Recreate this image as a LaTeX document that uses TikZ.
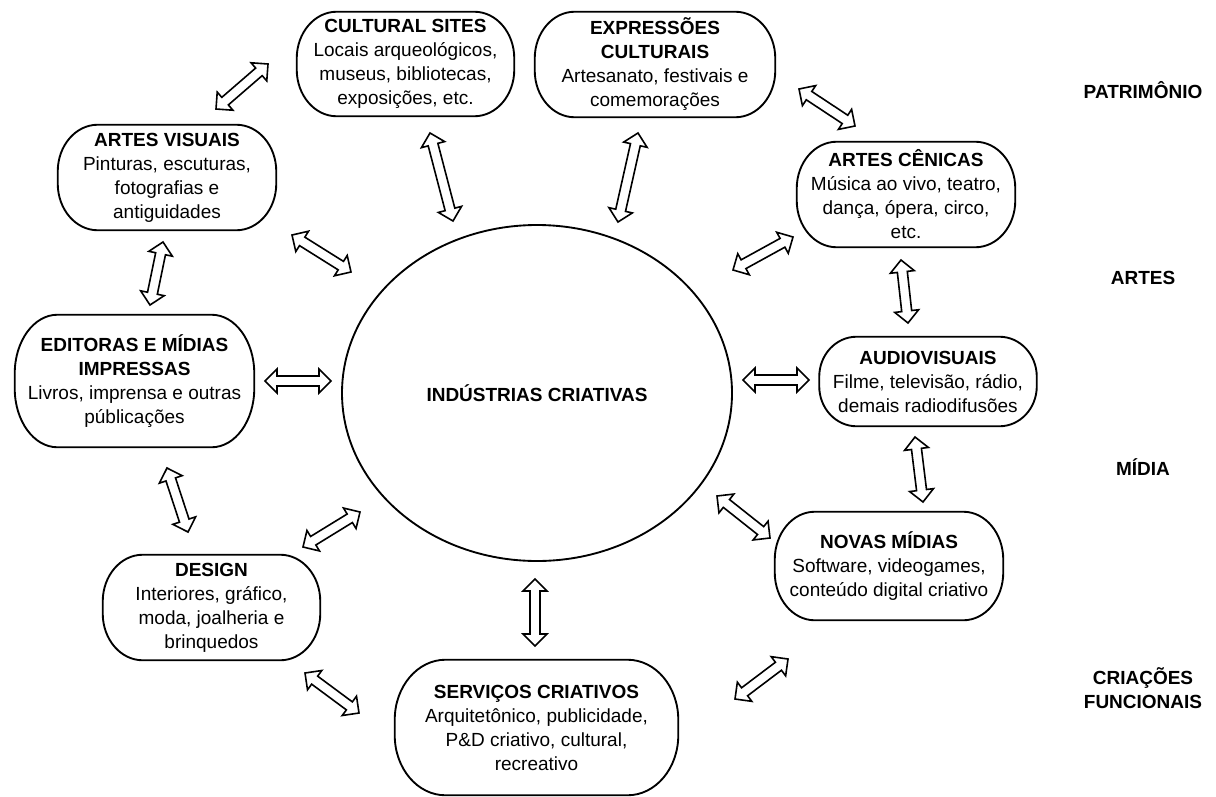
\documentclass[tikz,border=0pt]{standalone}
\usepackage{fontspec}
\setmainfont{Liberation Sans}
\usetikzlibrary{shapes.geometric,calc}

% hollow double-headed block arrow between two named points
\newcommand\twinarrow[2]{%
  \coordinate (ta) at ($(#1)!9pt!(#2)$);
  \coordinate (tb) at ($(#2)!9pt!(#1)$);
  \draw[arrowline] (#1)
    -- ($(ta)!9pt!90:(#2)$) -- ($(ta)!3.75pt!90:(#2)$)
    -- ($(tb)!3.75pt!-90:(#1)$) -- ($(tb)!9pt!-90:(#1)$)
    -- (#2)
    -- ($(tb)!9pt!90:(#1)$) -- ($(tb)!3.75pt!90:(#1)$)
    -- ($(ta)!3.75pt!-90:(#2)$) -- ($(ta)!9pt!-90:(#2)$)
    -- cycle;}

% border with elliptical corners around a node: #2 horizontal, #3 vertical radius
\newcommand\pillborder[3]{%
  \draw[pillline] let \p1=(#1.north west), \p2=(#1.south east) in
    (\x1+#2,\y1) -- (\x2-#2,\y1)
    .. controls (\x2-0.448*#2,\y1) and (\x2,\y1-0.448*#3) .. (\x2,\y1-#3)
    -- (\x2,\y2+#3)
    .. controls (\x2,\y2+0.448*#3) and (\x2-0.448*#2,\y2) .. (\x2-#2,\y2)
    -- (\x1+#2,\y2)
    .. controls (\x1+0.448*#2,\y2) and (\x1,\y2+0.448*#3) .. (\x1,\y2+#3)
    -- (\x1,\y1-#3)
    .. controls (\x1,\y1-0.448*#3) and (\x1+0.448*#2,\y1) .. (\x1+#2,\y1)
    -- cycle;}

\tikzset{
  sector/.style={align=center, inner sep=0pt,
    font=\fontsize{14.25pt}{18pt}\selectfont},
  pillline/.style={draw, line width=1.4pt},
  arrowline/.style={draw, line width=1.2pt, fill=white, line join=miter},
  group/.style={align=center, inner sep=0pt,
    font=\bfseries\fontsize{14.25pt}{18pt}\selectfont},
}

\begin{document}
\begin{tikzpicture}[x=0.75pt, y=-0.75pt]
\useasboundingbox (0,0) rectangle (1216,796);

% central hub
\node[draw, ellipse, line width=1.4pt, minimum width=292.5pt, minimum height=252pt,
      font=\bfseries\fontsize{14.25pt}{18pt}\selectfont] (hub) at (537,393)
  {INDÚSTRIAS CRIATIVAS};

% sectors
\node[sector, minimum width=162.75pt, minimum height=78pt] (cs) at (405.5,64)
  {\textbf{CULTURAL SITES}\\Locais arqueológicos,\\museus, bibliotecas,\\exposições, etc.};
\node[sector, minimum width=180pt, minimum height=78.75pt] (ec) at (655,64.5)
  {\textbf{EXPRESSÕES}\\\textbf{CULTURAIS}\\Artesanato, festivais e\\comemorações};
\node[sector, minimum width=163.5pt, minimum height=78.75pt] (av) at (167,177.5)
  {\textbf{ARTES VISUAIS}\\Pinturas, escuturas,\\fotografias e\\antiguidades};
\node[sector, minimum width=163.5pt, minimum height=78.75pt] (ac) at (906,194.5)
  {\textbf{ARTES CÊNICAS}\\Música ao vivo, teatro,\\dança, ópera, circo,\\etc.};
\node[sector, minimum width=179.25pt, minimum height=99pt] (ed) at (134.5,381)
  {\textbf{EDITORAS E MÍDIAS}\\\textbf{IMPRESSAS}\\Livros, imprensa e outras\\públicações};
\node[sector, minimum width=162.75pt, minimum height=66.75pt] (au) at (928,381.5)
  {\textbf{AUDIOVISUAIS}\\Filme, televisão, rádio,\\demais radiodifusões};
\node[sector, minimum width=162.75pt, minimum height=78.75pt] (de) at (211.5,607.5)
  {\textbf{DESIGN}\\Interiores, gráfico,\\moda, joalheria e\\brinquedos};
\node[sector, minimum width=171pt, minimum height=81pt] (nm) at (889,566)
  {\textbf{NOVAS MÍDIAS}\\Software, videogames,\\conteúdo digital criativo};
\node[sector, minimum width=212.25pt, minimum height=101.25pt] (sc) at (536.5,727.5)
  {\textbf{SERVIÇOS CRIATIVOS}\\Arquitetônico, publicidade,\\P\&D criativo, cultural,\\recreativo};

\pillborder{cs}{30pt}{35pt}
\pillborder{ec}{30pt}{35pt}
\pillborder{av}{30pt}{35pt}
\pillborder{ac}{30pt}{35pt}
\pillborder{ed}{32pt}{44pt}
\pillborder{au}{28pt}{30pt}
\pillborder{de}{30pt}{35pt}
\pillborder{nm}{30pt}{36pt}
\pillborder{sc}{38pt}{45pt}

% group labels on the right
\node[group] (gp) at (1143,90) {PATRIMÔNIO};
\node[group] (ga) at (1143,278) {ARTES};
\node[group] (gm) at (1143,467) {MÍDIA};
\node[group] (gc) at (1143,688) {CRIAÇÕES\\FUNCIONAIS};

% arrow end points
\coordinate (av-cs) at (216,109);  \coordinate (cs-av) at (268,64);
\coordinate (cs-hub) at (430,133); \coordinate (hub-cs) at (453,221);
\coordinate (ec-hub) at (638,133); \coordinate (hub-ec) at (618,222);
\coordinate (ec-ac) at (799,89);   \coordinate (ac-ec) at (855,126);
\coordinate (hub-ac) at (733,270); \coordinate (ac-hub) at (793,237);
\coordinate (ac-au) at (901,260);  \coordinate (au-ac) at (908,323);
\coordinate (hub-au) at (743,380); \coordinate (au-hub) at (809,380);
\coordinate (au-nm) at (915,437);  \coordinate (nm-au) at (923,502);
\coordinate (hub-nm) at (717,496); \coordinate (nm-hub) at (770,538);
\coordinate (sc-nm) at (735,699);  \coordinate (nm-sc) at (788,659);
\coordinate (hub-sc) at (535,579); \coordinate (sc-hub) at (535,646);
\coordinate (de-sc) at (305,673);  \coordinate (sc-de) at (359,713);
\coordinate (de-hub) at (303,547); \coordinate (hub-de) at (360,512);
\coordinate (ed-de) at (167,468);  \coordinate (de-ed) at (188,532);
\coordinate (ed-hub) at (265,381); \coordinate (hub-ed) at (331,381);
\coordinate (av-ed) at (163,242);  \coordinate (ed-av) at (150,305);
\coordinate (av-hub) at (292,235); \coordinate (hub-av) at (351,272);

% links
\twinarrow{av-cs}{cs-av}
\twinarrow{cs-hub}{hub-cs}
\twinarrow{ec-hub}{hub-ec}
\twinarrow{ec-ac}{ac-ec}
\twinarrow{hub-ac}{ac-hub}
\twinarrow{ac-au}{au-ac}
\twinarrow{hub-au}{au-hub}
\twinarrow{au-nm}{nm-au}
\twinarrow{hub-nm}{nm-hub}
\twinarrow{sc-nm}{nm-sc}
\twinarrow{hub-sc}{sc-hub}
\twinarrow{de-sc}{sc-de}
\twinarrow{de-hub}{hub-de}
\twinarrow{ed-de}{de-ed}
\twinarrow{ed-hub}{hub-ed}
\twinarrow{av-ed}{ed-av}
\twinarrow{av-hub}{hub-av}
\end{tikzpicture}
\end{document}
